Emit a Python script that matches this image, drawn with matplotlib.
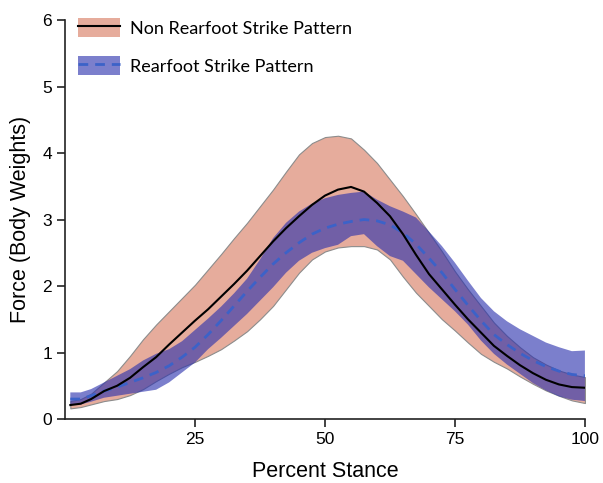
import numpy as np
import matplotlib
matplotlib.use("Agg")
import matplotlib.pyplot as plt
from matplotlib.patches import Patch
from matplotlib.lines import Line2D

plt.rcParams['font.family'] = ['Liberation Sans', 'DejaVu Sans']

# Percent stance sample points
stance = [1, 3, 5, 7.5, 10, 12.5, 15, 17.5, 20, 22.5, 25, 27.5, 30, 32.5, 35, 37.5,
          40, 42.5, 45, 47.5, 50, 52.5, 55, 57.5, 60, 62.5, 65, 67.5, 70, 72.5, 75,
          77.5, 80, 82.5, 85, 87.5, 90, 92.5, 95, 97.5, 100]

# Non rearfoot strike pattern (mean and band)
nrfs_mean = [0.21, 0.23, 0.30, 0.42, 0.50, 0.62, 0.78, 0.93, 1.12, 1.30, 1.48, 1.65,
             1.84, 2.03, 2.23, 2.45, 2.67, 2.87, 3.05, 3.22, 3.36, 3.45, 3.49, 3.42,
             3.25, 3.05, 2.78, 2.47, 2.18, 1.95, 1.72, 1.50, 1.30, 1.10, 0.95, 0.81,
             0.69, 0.59, 0.52, 0.48, 0.47]
nrfs_upper = [0.27, 0.30, 0.38, 0.55, 0.72, 0.95, 1.20, 1.42, 1.62, 1.82, 2.02, 2.25,
              2.48, 2.72, 2.95, 3.20, 3.45, 3.72, 3.98, 4.15, 4.24, 4.26, 4.22, 4.05,
              3.85, 3.60, 3.35, 3.08, 2.80, 2.52, 2.22, 1.95, 1.70, 1.45, 1.25, 1.08,
              0.93, 0.82, 0.73, 0.67, 0.63]
nrfs_lower = [0.16, 0.18, 0.22, 0.27, 0.30, 0.36, 0.45, 0.57, 0.68, 0.78, 0.86, 0.95,
              1.05, 1.18, 1.32, 1.50, 1.70, 1.95, 2.20, 2.40, 2.52, 2.58, 2.60, 2.60,
              2.55, 2.40, 2.14, 1.90, 1.70, 1.50, 1.33, 1.15, 0.98, 0.86, 0.76, 0.64,
              0.53, 0.43, 0.35, 0.28, 0.24]

# Rearfoot strike pattern (mean and band)
rfs_mean = [0.30, 0.30, 0.35, 0.42, 0.48, 0.55, 0.62, 0.70, 0.80, 0.93, 1.08, 1.27,
            1.48, 1.70, 1.92, 2.13, 2.33, 2.50, 2.65, 2.78, 2.87, 2.93, 2.97, 3.00,
            2.98, 2.92, 2.80, 2.63, 2.42, 2.20, 1.95, 1.71, 1.48, 1.27, 1.12, 0.99,
            0.88, 0.79, 0.72, 0.67, 0.65]
rfs_upper = [0.40, 0.40, 0.45, 0.55, 0.65, 0.75, 0.88, 0.98, 1.05, 1.17, 1.34, 1.51,
             1.69, 1.89, 2.11, 2.40, 2.72, 2.95, 3.12, 3.24, 3.32, 3.37, 3.40, 3.42,
             3.30, 3.20, 3.12, 3.03, 2.82, 2.60, 2.35, 2.08, 1.82, 1.62, 1.47, 1.35,
             1.25, 1.15, 1.08, 1.02, 1.03]
rfs_lower = [0.22, 0.22, 0.26, 0.32, 0.35, 0.38, 0.41, 0.44, 0.55, 0.70, 0.85, 1.05,
             1.22, 1.40, 1.58, 1.78, 1.98, 2.20, 2.38, 2.50, 2.57, 2.62, 2.75, 2.78,
             2.60, 2.45, 2.38, 2.18, 1.98, 1.80, 1.62, 1.42, 1.18, 0.98, 0.82, 0.68,
             0.54, 0.43, 0.34, 0.29, 0.27]

x_ticks = [25, 50, 75, 100]
y_ticks = [0, 1, 2, 3, 4, 5, 6]

salmon = '#E6AC9C'
blue_band = '#2A30AD'
blue_line = '#3C62C8'

fig = plt.figure(figsize=(6.03, 4.83), dpi=100)
ax = fig.add_axes([0.108, 0.1325, 0.862, 0.826])

ax.fill_between(stance, nrfs_lower, nrfs_upper, facecolor=salmon, edgecolor='#8c8c8c',
                linewidth=0.8, zorder=1)
ax.fill_between(stance, rfs_lower, rfs_upper, facecolor=blue_band, alpha=0.62,
                linewidth=0, zorder=2)
ax.plot(stance, nrfs_mean, color='black', lw=1.5, zorder=4)
ax.plot(stance, rfs_mean, color=blue_line, lw=2, dashes=(3.5, 2.5), zorder=3)

ax.set_xlim(0, 100)
ax.set_ylim(0, 6)
ax.set_xticks(x_ticks)
ax.set_yticks(y_ticks)
ax.tick_params(direction='out', length=6, width=1.2, labelsize=12.5, color='#222222')
for side in ['top', 'right']:
    ax.spines[side].set_visible(False)
for side in ['left', 'bottom']:
    ax.spines[side].set_linewidth(1.2)
    ax.spines[side].set_color('#222222')

ax.set_xlabel('Percent Stance', fontsize=15.5, labelpad=10)
ax.set_ylabel('Force (Body Weights)', fontsize=15.5, labelpad=8)

# Legend: band patch with the mean line on top
h1 = (Patch(facecolor=salmon, edgecolor='none'), Line2D([], [], color='black', lw=1.5))
h2 = (Patch(facecolor=blue_band, alpha=0.62, edgecolor='none'),
      Line2D([], [], color=blue_line, lw=2, dashes=(3.5, 2.5)))
ax.legend([h1, h2], ['Non Rearfoot Strike Pattern', 'Rearfoot Strike Pattern'],
          loc='upper left', bbox_to_anchor=(0.025, 1.005), frameon=False,
          borderpad=0, borderaxespad=0,
          prop={'family': ['Lato', 'DejaVu Sans'], 'size': 13},
          handlelength=2.3, handleheight=1.25, handletextpad=0.55, labelspacing=1.05)

fig.savefig('out.png', dpi=100)
